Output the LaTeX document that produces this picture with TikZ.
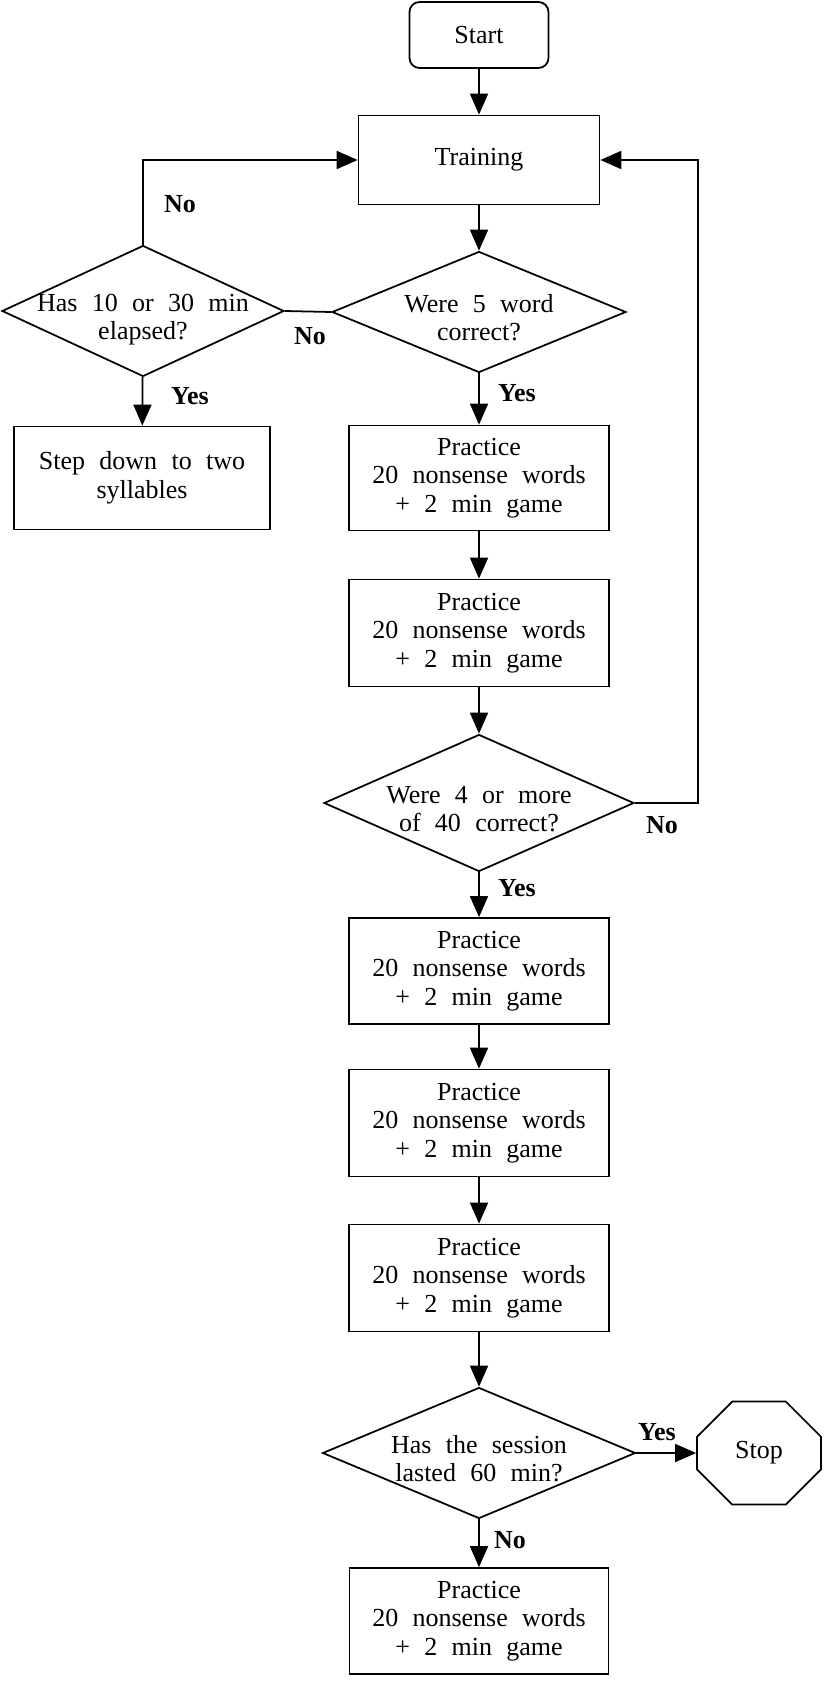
\documentclass[tikz,border=0pt]{standalone}
\usepackage{fontspec}
\setmainfont{Liberation Serif}
\usetikzlibrary{shapes.geometric,shapes.misc,arrows.meta}
\newcommand\boxfont{\fontsize{14.8}{16.2}\selectfont\spaceskip 0.55em plus 0.1em\relax}
\newcommand\dtext[1]{\raisebox{-0.3cm}[0pt][0pt]{\makebox[0pt]{\begin{tabular}{@{}c@{}}#1\end{tabular}}}}

\begin{document}
\begin{tikzpicture}[x=0.02cm,y=-0.02cm,
    every node/.style={font=\boxfont},
    box/.style={draw,line width=1pt,align=center,inner sep=0pt},
    dec/.style={draw,diamond,line width=1pt,inner sep=0pt},
    lbl/.style={font=\boxfont\bfseries},
    arr/.style={-{Triangle[length=0.42cm,width=0.36cm]},line width=1pt}]
  \useasboundingbox (0,0) rectangle (827,1686);
  % main column
  \node[box,rounded corners=0.2cm,minimum width=2.78cm,minimum height=1.32cm] (start) at (479,35) {Start};
  \node[box,minimum width=4.82cm,minimum height=1.78cm] (train) at (479,160) {Training};
  \node[dec,minimum width=5.88cm,minimum height=2.42cm] (chk5) at (479,312) {\dtext{Were 5 word\\correct?}};
  \node[dec,minimum width=5.64cm,minimum height=2.62cm] (chk10) at (143,311) {\dtext{Has 10 or 30 min\\elapsed?}};
  \node[box,minimum width=5.12cm,minimum height=2.06cm] (down2) at (142,478) {Step down to two\\syllables};
  \node[box,minimum width=5.2cm,minimum height=2.1cm] (prac1) at (479,478) {Practice\\20 nonsense words\\+ 2 min game};
  \node[box,minimum width=5.2cm,minimum height=2.14cm] (prac2) at (479,633) {Practice\\20 nonsense words\\+ 2 min game};
  \node[dec,minimum width=6.2cm,minimum height=2.74cm] (chk40) at (479,803) {\dtext{Were 4 or more\\of 40 correct?}};
  \node[box,minimum width=5.2cm,minimum height=2.12cm] (prac3) at (479,971) {Practice\\20 nonsense words\\+ 2 min game};
  \node[box,minimum width=5.2cm,minimum height=2.14cm] (prac4) at (479,1123) {Practice\\20 nonsense words\\+ 2 min game};
  \node[box,minimum width=5.2cm,minimum height=2.14cm] (prac5) at (479,1278) {Practice\\20 nonsense words\\+ 2 min game};
  \node[dec,minimum width=6.26cm,minimum height=2.62cm] (chk60) at (479,1453) {\dtext{Has the session\\lasted 60 min?}};
  \node[box,chamfered rectangle,chamfered rectangle xsep=0.56cm,chamfered rectangle ysep=0.56cm,
        minimum width=2.48cm,minimum height=2.06cm] (stop) at (759,1453) {Stop};
  \node[box,minimum width=5.18cm,minimum height=2.12cm] (prac6) at (479,1621) {Practice\\20 nonsense words\\+ 2 min game};
  \coordinate (loopR) at (698,803);

  % connectors
  \draw[arr] (start) -- (train);
  \draw[arr] (train) -- (chk5);
  \draw[line width=1pt] (chk5.west) -- (chk10.east);
  \draw[arr] (chk10.north) |- (train.west);
  \draw[arr] (chk10) -- (down2);
  \draw[arr] (chk5) -- (prac1);
  \draw[arr] (prac1) -- (prac2);
  \draw[arr] (prac2) -- (chk40);
  \draw[arr] (chk40.east) -- (loopR) |- (train.east);
  \draw[arr] (chk40) -- (prac3);
  \draw[arr] (prac3) -- (prac4);
  \draw[arr] (prac4) -- (prac5);
  \draw[arr] (prac5) -- (chk60);
  \draw[arr] (chk60.east) -- (stop.west);
  \draw[arr] (chk60) -- (prac6);

  % labels
  \node[lbl] (no1) at (180,204) {No};
  \node[lbl] (no2) at (310,336) {No};
  \node[lbl] (yes1) at (190,396) {Yes};
  \node[lbl] (yes2) at (517,393) {Yes};
  \node[lbl] (no3) at (662,825) {No};
  \node[lbl] (yes3) at (517,888) {Yes};
  \node[lbl] (yes4) at (657,1432) {Yes};
  \node[lbl] (no4) at (510,1540) {No};
\end{tikzpicture}
\end{document}
